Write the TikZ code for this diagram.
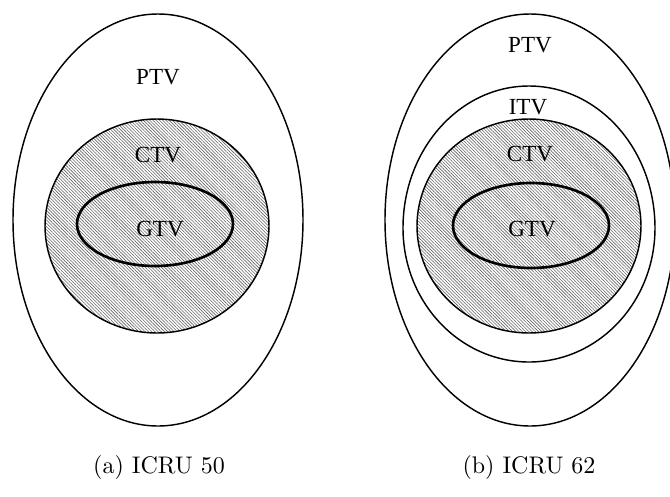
\documentclass[tikz,border=0pt]{standalone}
\usepackage{fontspec}
\newfontfamily\volfont{Liberation Serif}
\usetikzlibrary{patterns.meta}

\begin{document}
\begin{tikzpicture}[x=0.41667pt,y=-0.41667pt,
  vol/.style={line width=.6pt},
  gtv/.style={line width=1.1pt},
  hatch/.style={pattern={Lines[angle=-45,distance=0.95pt,line width=.25pt]},pattern color=black!60},
  lbl/.style={font=\volfont\fontsize{9.6}{11}\selectfont,inner sep=0pt},
  caption/.style={font=\normalsize,inner sep=0pt}]
\clip (0,0) rectangle (670,496);
% (a) ICRU 50
\coordinate (ptvA) at (158,220);
\coordinate (ctvA) at (157,226);
\coordinate (gtvA) at (155,224);
\draw[vol] (ptvA) ellipse [x radius=145,y radius=206];
\fill[white] (ctvA) ellipse [x radius=112,y radius=107];
\draw[vol,hatch] (ctvA) ellipse [x radius=112,y radius=107];
\draw[gtv] (gtvA) ellipse [x radius=78,y radius=42];
\node[lbl] (ptvlblA) at (158,77) {PTV};
\node[lbl] (ctvlblA) at (158,155) {CTV};
\node[lbl] (gtvlblA) at (160,229) {GTV};
\node[caption] (capA) at (159,467) {(a) ICRU 50};
% (b) ICRU 62
\coordinate (ptvB) at (530,220);
\coordinate (itvB) at (529,228);
\coordinate (ctvB) at (529,226);
\coordinate (gtvB) at (531,225.5);
\draw[vol] (ptvB) ellipse [x radius=145,y radius=206];
% ITV: taller upper half, flatter lower half
\draw[vol] (itvB) ++(-126,0) arc [start angle=180,end angle=360,x radius=126,y radius=142]
  arc [start angle=0,end angle=180,x radius=126,y radius=134] -- cycle;
\fill[white] (ctvB) ellipse [x radius=112,y radius=107];
\draw[vol,hatch] (ctvB) ellipse [x radius=112,y radius=107];
\draw[gtv] (gtvB) ellipse [x radius=78,y radius=42.5];
\node[lbl] (ptvlblB) at (530,45) {PTV};
\node[lbl] (itvlblB) at (528,107) {ITV};
\node[lbl] (ctvlblB) at (530,154) {CTV};
\node[lbl] (gtvlblB) at (532,229) {GTV};
\node[caption] (capB) at (529,467) {(b) ICRU 62};
\end{tikzpicture}
\end{document}
